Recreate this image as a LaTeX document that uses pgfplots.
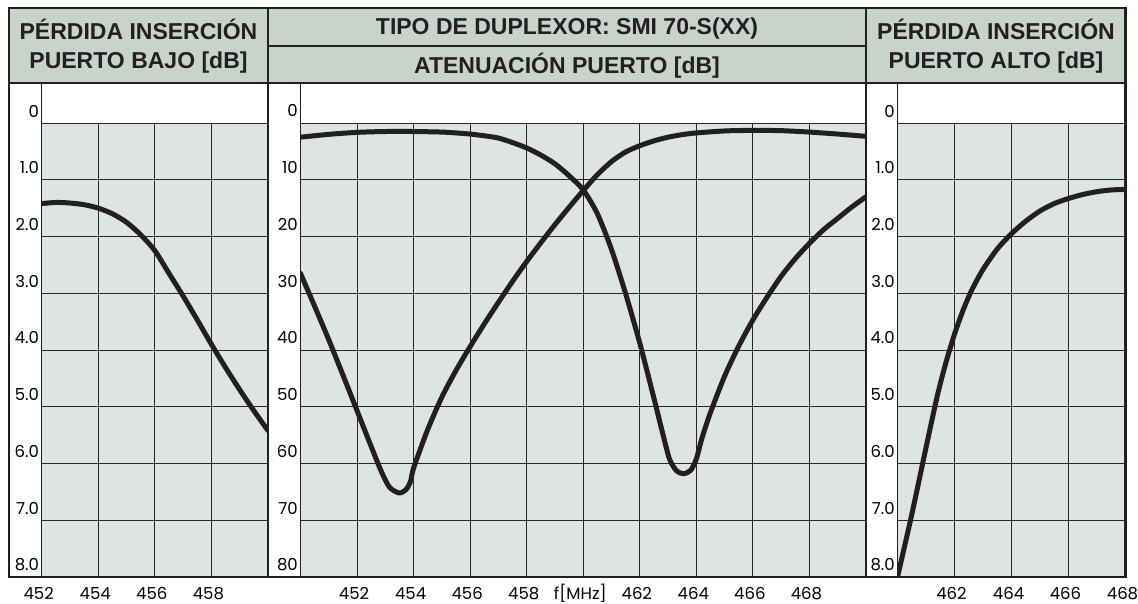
\documentclass[border=0pt]{standalone}
\usepackage{fontspec}
\setmainfont{Liberation Sans}
\newfontfamily\tickfont{Poppins}
\usepackage{pgfplots}
\pgfplotsset{compat=1.18}
\definecolor{hdr}{RGB}{201,211,204}
\definecolor{plt}{RGB}{223,228,224}
\definecolor{ink}{RGB}{35,31,32}
\pgfplotsset{
  panel/.style={
    scale only axis, anchor=center, height=454pt,
    y dir=reverse,
    axis background/.style={fill=plt},
    axis line style={draw=none},
    grid=major, major grid style={black!85, line width=0.9pt},
    major tick length=0pt,
    tick label style={font=\tickfont\fontsize{16.5}{16.5}\selectfont, inner sep=0pt},
    yticklabel style={anchor=base east, xshift=-2.5pt, yshift=6pt},
    xticklabel style={anchor=base, yshift=-22.5pt, xshift=-3pt},
  },
  curve/.style={ink, line width=5pt, smooth, tension=0.45, line join=round, line cap=round},
}
\begin{document}
\begin{tikzpicture}[x=1pt,y=1pt]
\useasboundingbox (0,0) rectangle (1138,604);
\fill[hdr] (9,596) rectangle (1125.5,521);

% Panel 1: low port insertion loss
\begin{axis}[panel, at={(154.85pt,254pt)}, width=226.3pt,
  xmin=452, xmax=460, ymin=0, ymax=8,
  xtick={452,454,456,458,460}, xticklabels={452,454,456,458,},
  ytick={0,1,2,3,4,5,6,7,8}, yticklabels={0,1.0,2.0,3.0,4.0,5.0,6.0,7.0,8.0}]
\addplot[curve] coordinates {
(452.0,1.42) (452.5,1.40) (453.0,1.41) (453.5,1.44) (454.0,1.50) (454.5,1.60)
(455.0,1.75) (455.5,1.97) (456.0,2.25) (456.5,2.65) (457.0,3.05) (457.5,3.47)
(458.0,3.90) (458.5,4.31) (459.0,4.70) (459.5,5.07) (460.0,5.42)};
\end{axis}

% Panel 2: port attenuation
\begin{axis}[panel, at={(583.25pt,254pt)}, width=565.5pt,
  xmin=450, xmax=470, ymin=0, ymax=80,
  xtick={450,452,...,470}, xticklabels={,452,454,456,458,{f[MHz]},462,464,466,468,},
  ytick={0,10,...,80}, yticklabels={0,10,20,30,40,50,60,70,80}]
\addplot[curve] coordinates {
(450.0,26.5) (450.5,32.3) (451.0,38.2) (451.5,44.4) (452.0,50.7) (452.5,57.0)
(452.85,61.3) (453.15,64.2) (453.5,65.2) (453.75,64.5) (453.9,63.0) (454.0,60.8)
(454.5,54.0) (455.0,48.3) (455.5,43.6) (456.0,39.4) (456.5,35.4) (457.0,31.6)
(457.5,27.9) (458.0,24.4) (458.5,21.1) (459.0,17.9) (459.5,14.85) (460.0,11.9)
(460.5,9.1) (461.0,6.8) (461.5,5.1) (462.0,4.0) (462.5,3.15) (463.0,2.5)
(463.5,2.05) (464.0,1.75) (465.0,1.4) (466.0,1.3) (467.0,1.35) (468.0,1.6)
(469.0,1.95) (470.0,2.35)};
\addplot[curve] coordinates {
(450.0,2.5) (451.0,2.0) (452.0,1.65) (453.0,1.5) (454.0,1.5) (455.0,1.6)
(455.5,1.75) (456.0,1.95) (456.5,2.25) (457.0,2.65) (457.5,3.45) (458.0,4.4)
(458.5,5.65) (459.0,7.2) (459.5,9.3) (460.0,11.8) (460.5,16.0) (461.0,22.3)
(461.5,30.1) (462.0,38.8) (462.5,48.5) (462.8,54.5) (463.05,59.2) (463.3,61.3)
(463.55,61.8) (463.8,61.2) (464.0,59.2) (464.2,55.5) (464.5,51.0) (465.0,44.6)
(465.5,39.3) (466.0,34.7) (466.5,30.7) (467.0,27.0) (467.5,23.9) (468.0,21.2)
(468.5,18.8) (469.0,16.8) (469.5,14.8) (470.0,13.0)};
\end{axis}

% Panel 3: high port insertion loss
\begin{axis}[panel, at={(1011.5pt,254pt)}, width=228pt,
  xmin=460, xmax=468, ymin=0, ymax=8,
  xtick={460,462,464,466,468}, xticklabels={,462,464,466,468},
  ytick={0,1,2,3,4,5,6,7,8}, yticklabels={0,1.0,2.0,3.0,4.0,5.0,6.0,7.0,8.0}]
\addplot[curve] coordinates {
(460.0,8.0) (460.5,6.9) (461.0,5.72) (461.4,4.8) (461.7,4.22) (462.0,3.72)
(462.3,3.3) (462.6,2.95) (463.0,2.58) (463.5,2.22) (464.0,1.95) (464.5,1.73)
(465.0,1.55) (465.5,1.42) (466.0,1.33) (466.5,1.26) (467.0,1.21) (467.5,1.18) (468.0,1.17)};
\end{axis}

% frame
\draw[ink, line width=1.3pt] (41.7,521) -- (41.7,27) (300.5,521) -- (300.5,27) (897.5,521) -- (897.5,27);
\draw[ink, line width=1.2pt] (268,558) -- (866,558);
\draw[ink, line width=2.2pt] (9,521) -- (1125.5,521);
\draw[ink, line width=2.4pt] (268,596) -- (268,27) (866,596) -- (866,27);
\draw[ink, line width=2.4pt] (9,596) rectangle (1125.5,27);

% headers
\begin{scope}[every node/.style={font=\bfseries\fontsize{23}{23}\selectfont, anchor=base, inner sep=0pt, text=ink}]
\node at (138.5,564) {PÉRDIDA INSERCIÓN};
\node at (138.5,535.7) {PUERTO BAJO [dB]};
\node at (567,569.5) {TIPO DE DUPLEXOR: SMI 70-S(XX)};
\node at (567,530.5) {ATENUACIÓN PUERTO [dB]};
\node at (996,564) {PÉRDIDA INSERCIÓN};
\node at (996,535.7) {PUERTO ALTO [dB]};
\end{scope}
\end{tikzpicture}
\end{document}
